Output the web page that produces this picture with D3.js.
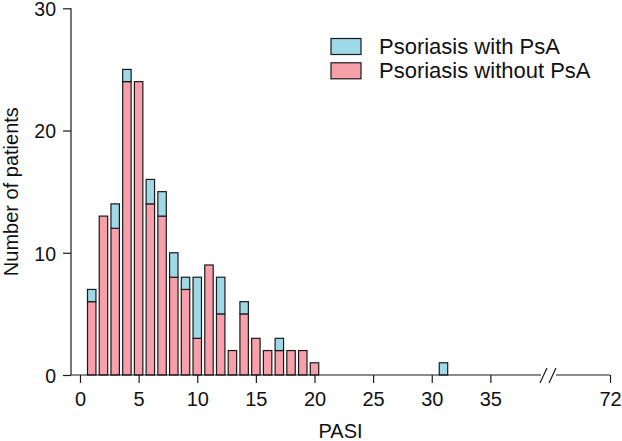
<!DOCTYPE html>
<html>
<head>
<meta charset="utf-8">
<script src="https://cdn.jsdelivr.net/npm/d3@7/dist/d3.min.js"></script>
<style>
  html, body { margin: 0; padding: 0; background: #fff; }
  svg { display: block; font-family: "Liberation Sans", Arial, Helvetica, sans-serif; }
</style>
</head>
<body>
<svg id="chart" width="622" height="441"></svg>
<script>
// PASI score categories (integer bins)
const pasi = [1,2,3,4,5,6,7,8,9,10,11,12,13,14,15,16,17,18,19,20,31];
// Psoriasis without PsA (bottom, pink)
const withoutPsA = [6,13,12,24,24,14,13,8,7,3,9,5,2,5,3,2,2,2,2,1,0];
// Psoriasis with PsA (stacked on top, blue)
const withPsA = [1,0,2,1,0,2,2,2,1,5,0,3,0,1,0,0,1,0,0,0,1];
const xTicks = [0,5,10,15,20,25,30,35,72];
const yTicks = [0,10,20,30];
const seriesNames = ["Psoriasis with PsA", "Psoriasis without PsA"];
const colors = {with: "#9fd8e7", without: "#f8a0aa"};

const svg = d3.select("#chart");
const stroke = "#1a1a1a";
const FONT = "Liberation Sans, Arial, sans-serif";

// broken x axis: 0..40 linear, then break, 72 at far end
const x = d3.scaleLinear().domain([0, 40, 72]).range([80, 549, 610]);
const y = d3.scaleLinear().domain([0, 30]).range([375, 8.3]);
const barW = x(0.72) - x(0);

const data = pasi.map((p, i) => ({p, a: withoutPsA[i], b: withPsA[i]}));

const g = svg.append("g");
// bottom (without PsA)
g.selectAll("rect.without").data(data.filter(d => d.a > 0)).join("rect")
  .attr("class", "without")
  .attr("x", d => x(d.p) - barW / 2)
  .attr("width", barW)
  .attr("y", d => y(d.a))
  .attr("height", d => y(0) - y(d.a))
  .attr("fill", colors.without).attr("stroke", stroke).attr("stroke-width", 1.2);
// top (with PsA)
g.selectAll("rect.with").data(data.filter(d => d.b > 0)).join("rect")
  .attr("class", "with")
  .attr("x", d => x(d.p) - barW / 2)
  .attr("width", barW)
  .attr("y", d => y(d.a + d.b))
  .attr("height", d => y(d.a) - y(d.a + d.b))
  .attr("fill", colors.with).attr("stroke", stroke).attr("stroke-width", 1.2);

// Y axis
const yAxis = d3.axisLeft(y).tickValues(yTicks).tickSize(8).tickPadding(7).tickFormat(d3.format("d"));
const yg = svg.append("g").attr("transform", "translate(71,0)").call(yAxis);
yg.select(".domain").attr("d", `M0,${y(30)}V${y(0)}`);
yg.selectAll("text").attr("font-size", 19.5).attr("dy", "0.38em").attr("fill", "#111").attr("font-family", FONT);
yg.selectAll("line, path").attr("stroke", stroke).attr("stroke-width", 1.2);

// X axis
const xAxis = d3.axisBottom(x).tickValues(xTicks).tickSize(8).tickPadding(9).tickFormat(d3.format("d"));
const xg = svg.append("g").attr("transform", `translate(0,${y(0)})`).call(xAxis);
xg.select(".domain").remove();
xg.selectAll("text").attr("font-size", 20).attr("fill", "#111").attr("font-family", FONT);
xg.selectAll("line").attr("stroke", stroke).attr("stroke-width", 1.2);
// axis line with break
const bx = x(40);
xg.append("path").attr("d", `M71,0H${bx - 8}M${bx + 7},0H${x(72)}`)
  .attr("stroke", stroke).attr("stroke-width", 1.2).attr("fill", "none");
xg.append("path").attr("d", `M${bx - 9},8L${bx - 2},-7M${bx},8L${bx + 7},-7`)
  .attr("stroke", stroke).attr("stroke-width", 1.2).attr("fill", "none");

// Axis titles
svg.append("text").attr("x", (71 + 610) / 2).attr("y", 438)
  .attr("text-anchor", "middle").attr("font-size", 20).attr("fill", "#111").text("PASI");
svg.append("text").attr("transform", `translate(18,${(y(0) + y(30)) / 2}) rotate(-90)`)
  .attr("text-anchor", "middle").attr("font-size", 20).attr("fill", "#111").text("Number of patients");

// Legend
const leg = svg.append("g");
const legItems = [
  {name: seriesNames[0], color: colors.with, y: 38.5},
  {name: seriesNames[1], color: colors.without, y: 62.8}
];
legItems.forEach(it => {
  leg.append("rect").attr("x", 331).attr("y", it.y).attr("width", 30).attr("height", 16)
    .attr("fill", it.color).attr("stroke", stroke).attr("stroke-width", 1.2);
  leg.append("text").attr("x", 379).attr("y", it.y + 15.5).attr("font-size", 22).attr("fill", "#111").text(it.name);
});
</script>
</body>
</html>
